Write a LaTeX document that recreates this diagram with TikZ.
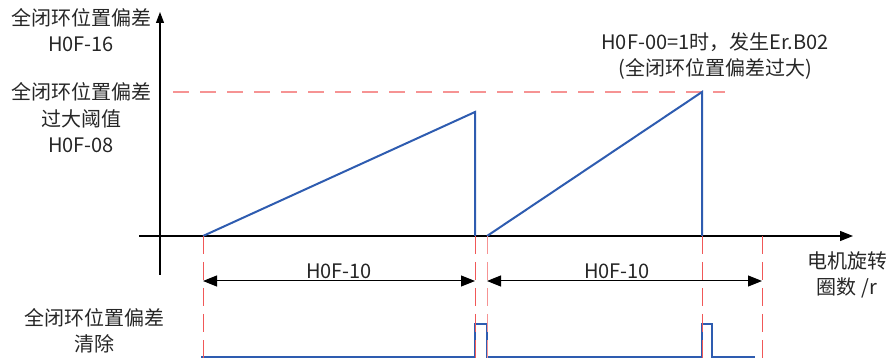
\documentclass[tikz,border=0pt]{standalone}
\usepackage{fontspec}
\setmainfont{Noto Sans CJK SC}
\usetikzlibrary{arrows.meta}
\definecolor{sigblue}{HTML}{2E5CB0}
\definecolor{guidered}{HTML}{EE3B3B}
\begin{document}
\begin{tikzpicture}[x=1pt,y=-1pt,
  font=\fontsize{20}{26.5}\selectfont,
  axisline/.style={line width=1.1pt,black},
  sigline/.style={line width=2pt,sigblue,line join=miter},
  guide/.style={line width=0.9pt,guidered!85,dash pattern=on 18pt off 8pt},
  thresh/.style={line width=1.2pt,guidered!55,dash pattern=on 16pt off 11pt},
  dimline/.style={line width=1pt,black,{Triangle[length=14pt,width=11pt]}-{Triangle[length=14pt,width=11pt]}},
  lbl/.style={align=center,inner sep=0pt,text=black!85}]
\useasboundingbox (0,0) rectangle (886,363);
% coordinates
\coordinate (ytop) at (160,12);
\coordinate (ybot) at (160,275);
\coordinate (xl) at (139,236);
\coordinate (xr) at (853,236);
\coordinate (a0) at (203,236);
\coordinate (a1) at (475,112);
\coordinate (a2) at (475,236);
\coordinate (b0) at (487,236);
\coordinate (b1) at (702,92);
\coordinate (b2) at (702,236);
\coordinate (t0) at (173,92);
\coordinate (t1) at (725,92);
\coordinate (g1) at (203,236); \coordinate (h1) at (203,363);
\coordinate (g2) at (475,236); \coordinate (h2) at (475,363);
\coordinate (g3) at (487,236); \coordinate (h3) at (487,363);
\coordinate (g4) at (702,236); \coordinate (h4) at (702,363);
\coordinate (g5) at (762,236); \coordinate (h5) at (762,363);
\coordinate (d1l) at (203,281); \coordinate (d1r) at (475,281);
\coordinate (d2l) at (487,281); \coordinate (d2r) at (762,281);
% axes
\draw[axisline,-{Triangle[length=11pt,width=8pt]}] (ybot) -- (ytop);
\draw[axisline,-{Triangle[length=13pt,width=10pt]}] (xl) -- (xr);
% threshold
\draw[thresh] (t0) -- (t1);
% ramps
\draw[sigline] (a0) -- (a1) -- (a2);
\draw[sigline] (b0) -- (b1) -- (b2);
% clear signal
\draw[sigline] (201,357) -- (475,357) -- (475,324) -- (487,324) -- (487,357)
  -- (702,357) -- (702,324) -- (712,324) -- (712,357) -- (755,357);
% guides
\draw[guide] (g1) -- (h1);
\draw[guide] (g2) -- (h2);
\draw[guide,guidered!55] (g3) -- (h3);
\draw[guide] (g4) -- (h4);
\draw[guide] (g5) -- (h5);
% dimensions
\draw[dimline] (d1l) -- (d1r);
\draw[dimline] (d2l) -- (d2r);
\node[lbl] (dim1) at (339,271) {H0F-10};
\node[lbl] (dim2) at (617,271) {H0F-10};
% labels
\node[lbl] (ylab) at (81,30) {全闭环位置偏差\\H0F-16};
\node[lbl] (thlab) at (81,118) {全闭环位置偏差\\过大阈值\\H0F-08};
\node[lbl] (errlab) at (715,56) {H0F-00=1时，发生Er.B02\\(全闭环位置偏差过大)};
\node[lbl] (xlab) at (847,275) {电机旋转\\圈数 /r};
\node[lbl] (clrlab) at (94,331) {全闭环位置偏差\\清除};
\end{tikzpicture}
\end{document}
